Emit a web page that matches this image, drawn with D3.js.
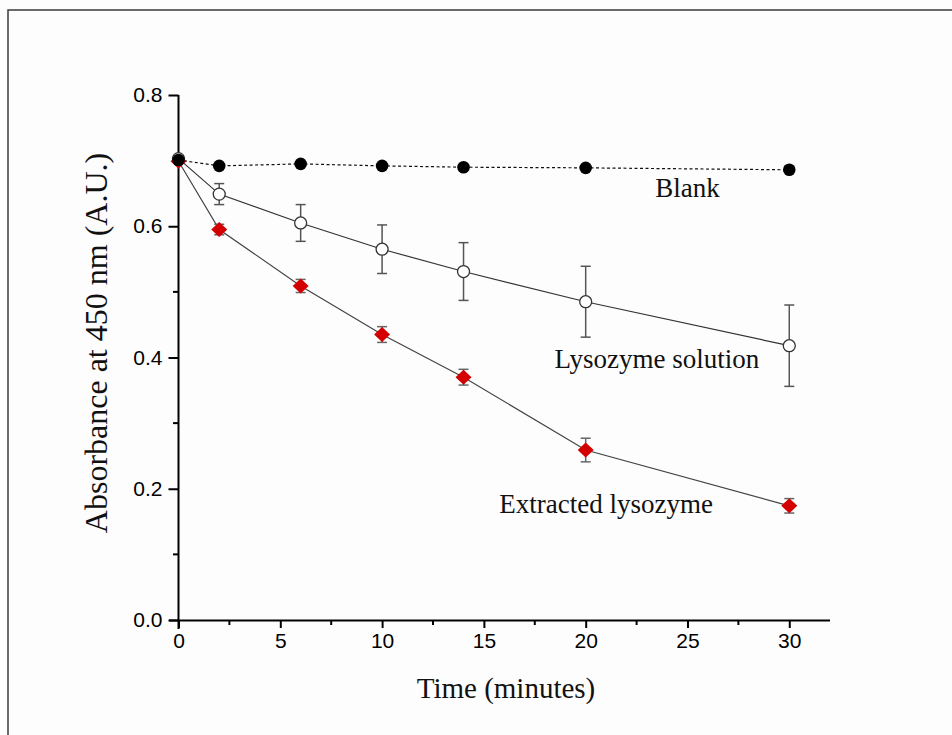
<!DOCTYPE html>
<html>
<head>
<meta charset="utf-8">
<script src="https://cdn.jsdelivr.net/npm/d3@7"></script>
<style>
  body { margin: 0; background: #fdfdfd; }
  svg { display: block; }
</style>
</head>
<body>
<div id="chart"></div>
<script>
// time points (minutes)
const times = [0, 2, 6, 10, 14, 20, 30];

// absorbance at 450 nm
const blank = [0.701, 0.692, 0.695, 0.692, 0.690, 0.689, 0.686];
const solution = [0.703, 0.649, 0.605, 0.565, 0.531, 0.485, 0.418];
const solutionErr = [0, 0.016, 0.028, 0.037, 0.044, 0.054, 0.062];
const extracted = [0.699, 0.595, 0.509, 0.435, 0.370, 0.259, 0.174];
const extractedErr = [0, 0.008, 0.010, 0.012, 0.012, 0.018, 0.011];

const xTicks = [0, 5, 10, 15, 20, 25, 30];
const yTicks = [0.0, 0.2, 0.4, 0.6, 0.8];

const labels = [
  { text: "Blank", t: 25.0, v: 0.645 },
  { text: "Lysozyme solution", t: 23.5, v: 0.384 },
  { text: "Extracted lysozyme", t: 21.0, v: 0.163 }
];

const W = 952, H = 735;
const svg = d3.select("#chart").append("svg")
  .attr("width", W).attr("height", H);

// frame lines (top and left only)
svg.append("path")
  .attr("d", "M8,735 V10 H952")
  .attr("fill", "none")
  .attr("stroke", "#3a3a3a")
  .attr("stroke-width", 1.5);

const x = d3.scaleLinear().domain([0, 32]).range([178.5, 830]);
const y = d3.scaleLinear().domain([0, 0.8]).range([620, 95]);

// x axis
const xAxis = svg.append("g")
  .attr("transform", "translate(0,620)")
  .call(d3.axisBottom(x).tickValues(xTicks).tickSize(8).tickPadding(5)
    .tickFormat(d3.format("d")));
xAxis.select(".domain").attr("d", "M169,0.5H830").attr("stroke-width", 2);
xAxis.selectAll(".tick line").attr("stroke-width", 2);
xAxis.selectAll(".tick text")
  .style("font-family", "'Liberation Sans', Arial, sans-serif")
  .style("font-size", "21px").attr("fill", "#000");
svg.append("g").selectAll("line")
  .data(d3.range(2.5, 30, 5))
  .join("line")
  .attr("x1", d => x(d)).attr("x2", d => x(d))
  .attr("y1", 620).attr("y2", 625)
  .attr("stroke", "#000").attr("stroke-width", 2);

// y axis
const yAxis = svg.append("g")
  .attr("transform", "translate(178.5,0)")
  .call(d3.axisLeft(y).tickValues(yTicks).tickSize(10).tickPadding(6)
    .tickFormat(d3.format(".1f")));
yAxis.select(".domain").attr("d", "M0,95V629").attr("stroke-width", 2);
yAxis.selectAll(".tick line").attr("stroke-width", 2);
yAxis.selectAll(".tick text")
  .style("font-family", "'Liberation Sans', Arial, sans-serif")
  .style("font-size", "21px").attr("fill", "#000");
svg.append("g").selectAll("line")
  .data([0.1, 0.3, 0.5, 0.7])
  .join("line")
  .attr("x1", 178.5).attr("x2", 173)
  .attr("y1", d => y(d)).attr("y2", d => y(d))
  .attr("stroke", "#000").attr("stroke-width", 2);

// axis titles
svg.append("text")
  .attr("x", 506).attr("y", 698)
  .attr("text-anchor", "middle")
  .attr("font-family", "'Liberation Serif', 'Times New Roman', serif")
  .attr("font-size", 29).attr("fill", "#111")
  .text("Time (minutes)");
svg.append("text")
  .attr("transform", "translate(107,343) rotate(-90)")
  .attr("text-anchor", "middle")
  .attr("font-family", "'Liberation Serif', 'Times New Roman', serif")
  .attr("font-size", 32).attr("fill", "#111")
  .text("Absorbance at 450 nm (A.U.)");

const line = vals => d3.line()
  .x((d, i) => x(times[i]))
  .y(d => y(d))(vals);

// connecting lines
svg.append("path").attr("d", line(extracted))
  .attr("fill", "none").attr("stroke", "#444").attr("stroke-width", 1.2);
svg.append("path").attr("d", line(solution))
  .attr("fill", "none").attr("stroke", "#333").attr("stroke-width", 1.2);
svg.append("path").attr("d", line(blank))
  .attr("fill", "none").attr("stroke", "#111").attr("stroke-width", 1.2)
  .attr("stroke-dasharray", "3,2.5");

// error bars
function errorBars(vals, errs, color) {
  const g = svg.append("g").attr("stroke", color).attr("stroke-width", 1.5);
  const idx = times.map((t, i) => i).filter(i => errs[i] > 0);
  g.selectAll(".v").data(idx).join("line")
    .attr("x1", i => x(times[i])).attr("x2", i => x(times[i]))
    .attr("y1", i => y(vals[i] + errs[i])).attr("y2", i => y(vals[i] - errs[i]));
  g.selectAll(".t").data(idx).join("line")
    .attr("x1", i => x(times[i]) - 5).attr("x2", i => x(times[i]) + 5)
    .attr("y1", i => y(vals[i] + errs[i])).attr("y2", i => y(vals[i] + errs[i]));
  g.selectAll(".b").data(idx).join("line")
    .attr("x1", i => x(times[i]) - 5).attr("x2", i => x(times[i]) + 5)
    .attr("y1", i => y(vals[i] - errs[i])).attr("y2", i => y(vals[i] - errs[i]));
}
errorBars(solution, solutionErr, "#555");
errorBars(extracted, extractedErr, "#666");

// markers
svg.append("g").selectAll("circle")
  .data(solution).join("circle")
  .attr("cx", (d, i) => x(times[i])).attr("cy", d => y(d))
  .attr("r", 6)
  .attr("fill", "#fff").attr("stroke", "#333").attr("stroke-width", 1.3);

svg.append("g").selectAll("path")
  .data(extracted).join("path")
  .attr("transform", (d, i) => `translate(${x(times[i])},${y(d)})`)
  .attr("d", "M0,-7.5L8,0L0,7.5L-8,0Z")
  .attr("fill", "#d40000");

svg.append("g").selectAll("circle")
  .data(blank).join("circle")
  .attr("cx", (d, i) => x(times[i])).attr("cy", d => y(d))
  .attr("r", 6.3)
  .attr("fill", "#000");

// series labels
svg.append("g").selectAll("text")
  .data(labels).join("text")
  .attr("x", d => x(d.t)).attr("y", d => y(d.v))
  .attr("text-anchor", "middle")
  .attr("font-family", "'Liberation Serif', 'Times New Roman', serif")
  .attr("font-size", 27).attr("fill", "#111")
  .text(d => d.text);
</script>
</body>
</html>
